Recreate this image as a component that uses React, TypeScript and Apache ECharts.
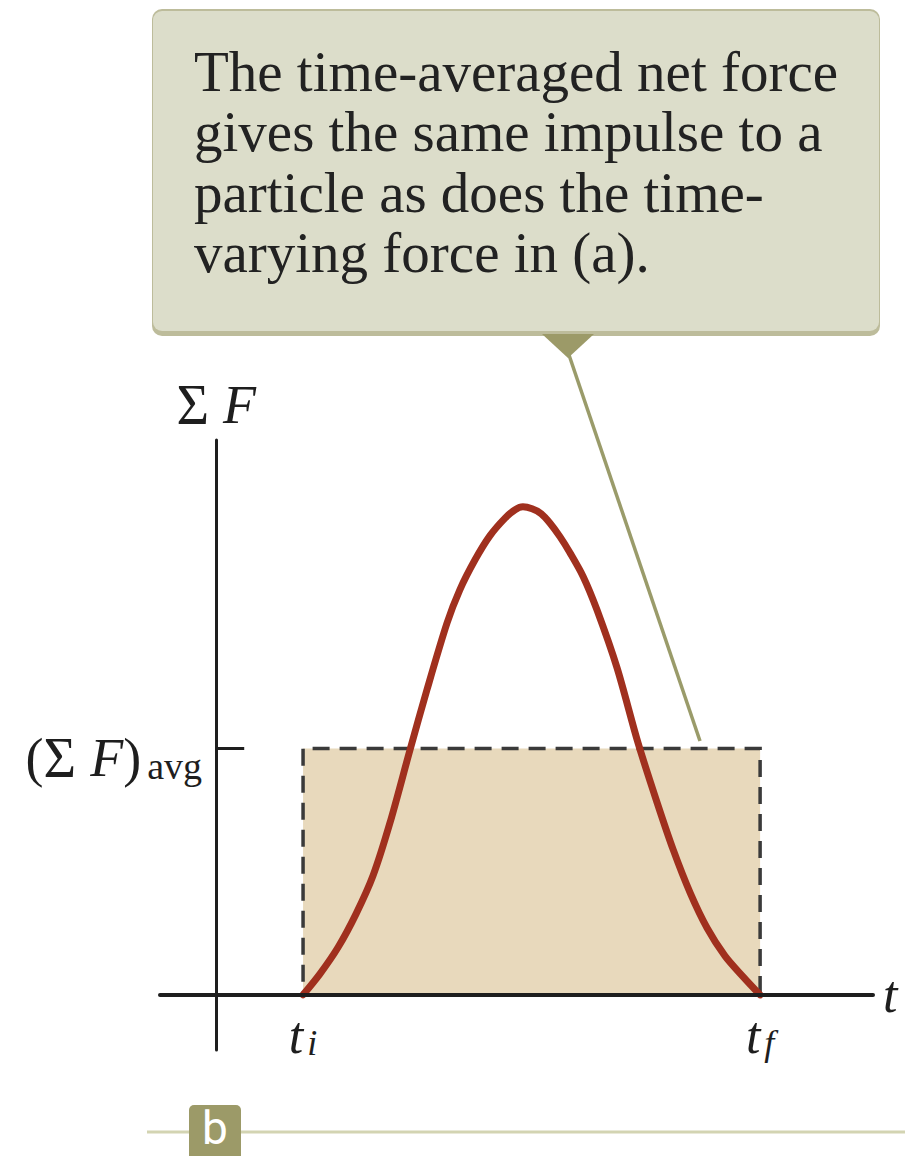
import React, { useEffect, useRef } from "react";
import * as echarts from "echarts";

// ---- data (time in arbitrary units, net force in arbitrary units) ----
const T_I = 1.9;
const T_F = 11.9;
const F_AVG = 5.05;
const X_RANGE = [-1.23, 14.37];
const Y_RANGE = [-1.13, 11.37];
const curveT = [
  1.9, 2.27, 2.67, 3.06, 3.43, 3.8, 4.24, 4.61, 5.05, 5.33, 5.66, 5.99, 6.32, 6.54, 6.71,
  6.91, 7.11, 7.3, 7.52, 7.74, 8.03, 8.33, 8.77, 9.23, 9.65, 10.0, 10.37, 10.74, 11.13, 11.53, 11.9,
];
const curveF = [
  0, 0.43, 0.98, 1.66, 2.44, 3.52, 5.02, 6.25, 7.62, 8.3, 8.91, 9.41, 9.77, 9.94, 10.0,
  9.96, 9.86, 9.67, 9.39, 9.06, 8.57, 7.89, 6.7, 5.16, 3.93, 2.97, 2.09, 1.37, 0.8, 0.37, 0,
];
const calloutLines = [
  "The time-averaged net force",
  "gives the same impulse to a",
  "particle as does the time-",
  "varying force in (a).",
];
const panelLabel = "b";

const SERIF = "'Liberation Serif', 'Times New Roman', serif";
const INK = "#1e1e1e";

export default function App() {
  const ref = useRef<HTMLDivElement>(null);
  useEffect(() => {
    if (!ref.current) return;
    const chart = echarts.init(ref.current, undefined, { renderer: "svg" });
    const curve = curveT.map((t, i) => [t, curveF[i]]);
    const mainRich = {
      p: { fontFamily: SERIF, fontSize: 54, color: INK, lineHeight: 54 },
      s: { fontFamily: SERIF, fontSize: 56, color: INK, lineHeight: 54 },
      f: { fontFamily: SERIF, fontSize: 54, fontStyle: "italic", color: INK, lineHeight: 54 },
      t: { fontFamily: SERIF, fontSize: 52, fontStyle: "italic", color: INK, lineHeight: 52 },
      sub: { fontFamily: SERIF, fontSize: 38, color: INK, lineHeight: 22, verticalAlign: "bottom", padding: [28, 0, 0, 6] },
      subi: { fontFamily: SERIF, fontSize: 36, fontStyle: "italic", color: INK, lineHeight: 20, verticalAlign: "bottom", padding: [16, 0, 0, 4] },
    };
    const option: any = {
      animation: false,
      backgroundColor: "#ffffff",
      grid: { left: 160, right: 32, top: 440, bottom: 106, outerBoundsMode: "none" },
      xAxis: {
        type: "value",
        min: X_RANGE[0],
        max: X_RANGE[1],
        z: 5,
        axisLine: { onZero: true, lineStyle: { color: INK, width: 4 } },
        axisTick: { show: false },
        splitLine: { show: false },
        axisLabel: {
          customValues: [T_I, T_F],
          margin: -41,
          verticalAlign: "top",
          formatter: (v: number) => (v === T_I ? "{t|t}{subi|i}" : "{t|t}{subi|f}"),
          rich: mainRich,
        },
        name: "t",
        nameLocation: "end",
        nameGap: 10,
        nameTextStyle: { fontFamily: SERIF, fontStyle: "italic", fontSize: 52, color: INK },
      },
      yAxis: {
        type: "value",
        min: Y_RANGE[0],
        max: Y_RANGE[1],
        z: 5,
        axisLine: { onZero: true, lineStyle: { color: INK, width: 3 } },
        axisTick: { customValues: [F_AVG], inside: true, length: 28, lineStyle: { color: INK, width: 3 } },
        splitLine: { show: false },
        axisLabel: {
          customValues: [F_AVG],
          margin: -42,
          padding: [20, 0, 0, 0],
          formatter: () => "{p|(}{s|Σ }{f|F}{p|)}{sub|avg}",
          rich: mainRich,
        },
        name: "{s|Σ }{f|F}",
        nameLocation: "end",
        nameGap: 8,
        nameTextStyle: { rich: mainRich },
      },
      series: [
        {
          type: "line",
          data: curve,
          smooth: 0.3,
          symbol: "none",
          z: 3,
          lineStyle: { color: "#A0301E", width: 7, cap: "round", join: "round" },
          markArea: {
            silent: true,
            itemStyle: {
              color: "#E8D9BC",
              borderColor: "#3a3a3a",
              borderWidth: 3.5,
              borderType: [17, 10],
            },
            data: [[{ coord: [T_I, 0] }, { coord: [T_F, F_AVG] }]],
          },
        },
      ],
      graphic: [
        // callout box
        {
          type: "rect",
          shape: { x: 152, y: 9, width: 728, height: 327, r: 10 },
          style: { fill: "#BDBC9B" },
          z: 10,
        },
        {
          type: "rect",
          shape: { x: 153, y: 11, width: 726, height: 320, r: 9 },
          style: { fill: "#DCDDCA" },
          z: 11,
        },
        {
          type: "polygon",
          shape: { points: [[542, 334], [594, 334], [568, 358]] },
          style: { fill: "#9C9A68" },
          z: 11,
        },
        {
          type: "line",
          shape: { x1: 568, y1: 352, x2: 700, y2: 741 },
          style: { stroke: "#9A9B6A", lineWidth: 3.5 },
          z: 11,
        },
        ...calloutLines.map((line, i) => ({
          type: "text",
          x: 194,
          y: 71 + i * 60.5,
          z: 12,
          style: {
            text: line,
            fontFamily: SERIF,
            fontSize: 57,
            fill: "#222222",
            verticalAlign: "middle",
          },
        })),
        // panel label
        {
          type: "line",
          shape: { x1: 147, y1: 1132, x2: 905, y2: 1132 },
          style: { stroke: "#D3D4B2", lineWidth: 3 },
          z: 10,
        },
        {
          type: "rect",
          shape: { x: 189, y: 1105, width: 52, height: 56, r: 5 },
          style: { fill: "#9C9A68" },
          z: 11,
        },
        {
          type: "text",
          x: 215,
          y: 1128,
          z: 12,
          style: {
            text: panelLabel,
            fontFamily: "Roboto, 'Liberation Sans', sans-serif",
            fontSize: 46,
            fill: "#ffffff",
            align: "center",
            verticalAlign: "middle",
          },
        },
      ],
    };
    chart.setOption(option);
    return () => chart.dispose();
  }, []);
  return (
    <div
      ref={ref}
      style={{ position: "absolute", left: 0, top: 0, width: 905, height: 1156 }}
    />
  );
}
